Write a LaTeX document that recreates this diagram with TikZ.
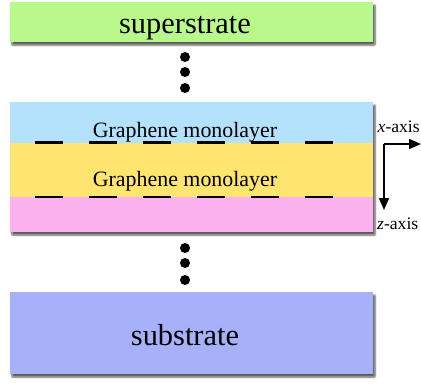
\documentclass[tikz,border=0pt]{standalone}
\usepackage{fontspec}
\setmainfont{Liberation Serif}
\usetikzlibrary{arrows.meta,shadows.blur}

\definecolor{supergreen}{RGB}{185,249,140}
\definecolor{layerblue}{RGB}{180,225,251}
\definecolor{layeryellow}{RGB}{253,229,112}
\definecolor{layerpink}{RGB}{252,178,238}
\definecolor{subblue}{RGB}{166,177,250}

\tikzset{
  slab/.style={draw=none, minimum width=363pt, inner sep=0pt, outer sep=0pt},
  shade/.style={blur shadow={shadow xshift=2pt, shadow yshift=-3pt,
                shadow blur steps=6, shadow blur extra rounding=0.5pt, shadow opacity=65}},
  bigtext/.style={font=\fontsize{30.4}{32}\selectfont},
  midtext/.style={font=\fontsize{21.9}{24}\selectfont},
  axtext/.style={font=\fontsize{17.6}{19}\selectfont, inner sep=0pt, anchor=base west},
  dotmark/.style={circle, fill=black, inner sep=0pt, minimum size=10pt},
  bound/.style={line width=2.4pt, dash pattern=on 28pt off 26pt},
  axis/.style={line width=1.5pt, -{Triangle[length=12pt,width=10pt]}}
}

\begin{document}
\begin{tikzpicture}[x=1pt,y=-1pt]
\useasboundingbox (0,0) rectangle (421,384);

% outer media
\node[slab, shade, fill=supergreen, minimum height=40pt] (super) at (191.5,22) {};
\node[bigtext, anchor=base] at (185,33) {superstrate};

\node[slab, shade, fill=subblue, minimum height=82pt] (sub) at (191.5,333) {};
\node[bigtext, anchor=base] at (185,345) {substrate};

% layered stack
\node[slab, shade, fill=layerpink, minimum height=130pt] (stack) at (191.5,167) {};
\node[slab, fill=layerblue, minimum height=41pt, anchor=north] (top) at (stack.north) {};
\node[slab, fill=layeryellow, minimum height=54pt, anchor=north] (mid) at (top.south) {};

\node[midtext, anchor=base] (g1) at (185,137) {Graphene monolayer};
\node[midtext, anchor=base] (g2) at (185,186) {Graphene monolayer};

% graphene sheets at the interfaces
\coordinate (b1l) at (35,142.5);  \coordinate (b1r) at (335,142.5);
\coordinate (b2l) at (35,197);    \coordinate (b2r) at (335,197);
\draw[bound] (b1l) -- (b1r);
\draw[bound] (b2l) -- (b2r);

% continuation dots
\foreach \y [count=\i] in {57,72,88} \node[dotmark] (u\i) at (185,\y) {};
\foreach \y [count=\i] in {248,263,280} \node[dotmark] (d\i) at (185,\y) {};

% axes
\coordinate (o) at (384,144);
\coordinate (xe) at (421,144);
\coordinate (ze) at (384,210);
\draw[axis] (o) -- (xe);
\draw[axis] (o) -- (ze);
\node[axtext] (xl) at (377.5,132) {\textit{x}-axis};
\node[axtext] (zl) at (377,229) {\textit{z}-axis};
\end{tikzpicture}
\end{document}
